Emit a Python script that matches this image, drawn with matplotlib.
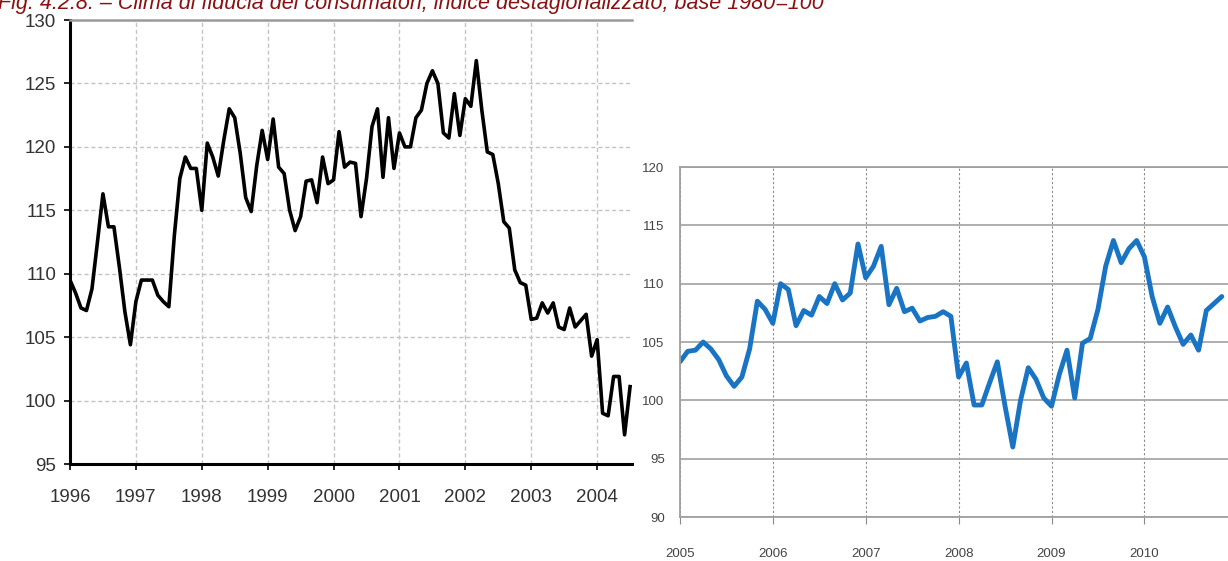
"""
plot.py - consumer confidence index, two panels side by side
Left: 1996-2004 (black), right: 2005-2010 (blue), monthly values.
"""

import numpy as np
import matplotlib
matplotlib.use("Agg")
import matplotlib.pyplot as plt

# ---------------------------------------------------------------------------
# Data (monthly)
# ---------------------------------------------------------------------------

TITLE = ("Fig. 4.2.8. \u2013 Clima di fiducia dei consumatori, "
         "indice destagionalizzato, base 1980=100")

# left panel: month 0 = Jan 1996
old_start = 1996
old_values = [
    109.5, 108.5, 107.3, 107.1, 108.8, 112.5, 116.3, 113.7, 113.7, 110.5,
    107.0, 104.4, 107.8, 109.5, 109.5, 109.5, 108.3, 107.8, 107.4, 113.0,
    117.5, 119.2, 118.3, 118.3, 115.0, 120.3, 119.2, 117.7, 120.5, 123.0,
    122.3, 119.5, 116.0, 114.9, 118.5, 121.3, 119.0, 122.2, 118.4, 117.9,
    115.0, 113.4, 114.5, 117.3, 117.4, 115.6, 119.2, 117.1, 117.4, 121.2,
    118.4, 118.8, 118.7, 114.5, 117.5, 121.6, 123.0, 117.6, 122.3, 118.3,
    121.1, 120.0, 120.0, 122.3, 122.9, 125.0, 126.0, 125.0, 121.1, 120.7,
    124.2, 120.9, 123.8, 123.2, 126.8, 122.9, 119.6, 119.4, 117.1, 114.1,
    113.6, 110.3, 109.3, 109.1, 106.4, 106.5, 107.7, 106.9, 107.7, 105.8,
    105.6, 107.3, 105.8, 106.3, 106.8, 103.5, 104.8, 99.0, 98.8, 101.9,
    101.9, 97.3, 101.1,
]
old_years = [1996, 1997, 1998, 1999, 2000, 2001, 2002, 2003, 2004]
old_yticks = [95, 100, 105, 110, 115, 120, 125, 130]

# right panel: month 0 = Jan 2005
new_start = 2005
new_values = [
    103.3, 104.2, 104.3, 105.0, 104.4, 103.5, 102.1, 101.2, 102.0, 104.4,
    108.5, 107.8, 106.6, 110.0, 109.5, 106.4, 107.7, 107.3, 108.9, 108.3,
    110.0, 108.6, 109.2, 113.4, 110.5, 111.5, 113.2, 108.2, 109.6, 107.6,
    107.9, 106.8, 107.1, 107.2, 107.6, 107.2, 102.0, 103.2, 99.6, 99.6,
    101.5, 103.3, 99.5, 96.0, 100.0, 102.8, 101.8, 100.2, 99.5, 102.2,
    104.3, 100.2, 104.9, 105.3, 107.8, 111.5, 113.7, 111.8, 113.0, 113.7,
    112.3, 108.9, 106.6, 108.0, 106.3, 104.8, 105.6, 104.3, 107.7, 108.3,
    108.9,
]
new_years = [2005, 2006, 2007, 2008, 2009, 2010]
new_yticks = [90, 95, 100, 105, 110, 115, 120]


def month_axis(start, n):
    return start + np.arange(n) / 12.0


# ---------------------------------------------------------------------------
# Panels
# ---------------------------------------------------------------------------

def draw_old(fig):
    ax = fig.add_axes([0.0570, 0.1729, 0.4577, 0.7914])
    x = month_axis(old_start, len(old_values))
    ax.plot(x, old_values, color="black", lw=2.6, solid_joinstyle="round")

    ax.set_xlim(1996, 2004.53)
    ax.set_ylim(95, 130)
    ax.set_xticks(old_years)
    ax.set_yticks(old_yticks)
    ax.grid(True, color="#c4c4c4", ls=(0, (3, 2)), lw=1.0)
    ax.set_axisbelow(True)

    for side in ("left", "bottom"):
        ax.spines[side].set_color("black")
        ax.spines[side].set_linewidth(2.2)
    ax.spines["top"].set_color("#9a9a9a")
    ax.spines["top"].set_linewidth(1.8)
    ax.spines["right"].set_visible(False)

    ax.tick_params(axis="y", length=4, width=1.2, pad=6, colors="black",
                   labelcolor="#333333", labelsize=13.5)
    ax.tick_params(axis="x", length=4, width=1.2, pad=14, colors="black",
                   labelcolor="#333333", labelsize=13.5)
    for lab in ax.get_xticklabels() + ax.get_yticklabels():
        lab.set_family(["Liberation Sans", "DejaVu Sans"])
    return ax


def draw_new(fig):
    ax = fig.add_axes([0.5537, 0.0784, 0.4463, 0.6239])
    x = month_axis(new_start, len(new_values))
    ax.plot(x, new_values, color="#1a74c4", lw=3.5,
            solid_joinstyle="round", solid_capstyle="round")

    ax.set_xlim(2005, 2010.9)
    ax.set_ylim(90, 120)
    ax.set_xticks(new_years)
    ax.set_yticks(new_yticks)
    ax.yaxis.grid(True, color="#a8a8a8", ls="-", lw=1.3)
    ax.xaxis.grid(True, color="#8a8a8a", ls=(0, (2, 2)), lw=0.8)
    ax.set_axisbelow(True)

    for side in ("left", "bottom", "top"):
        ax.spines[side].set_color("#a0a0a0")
        ax.spines[side].set_linewidth(1.3)
    ax.spines["right"].set_visible(False)

    ax.tick_params(axis="y", length=0, pad=11, labelcolor="#444444",
                   labelsize=9.5)
    ax.tick_params(axis="x", length=5, width=0.8, color="#8a8a8a", pad=17,
                   labelcolor="#444444", labelsize=9.5)
    for lab in ax.get_xticklabels() + ax.get_yticklabels():
        lab.set_family(["Liberation Sans Narrow", "Liberation Sans",
                        "DejaVu Sans"])
    return ax


def main():
    fig = plt.figure(figsize=(12.28, 5.61), dpi=100)
    draw_old(fig)
    draw_new(fig)
    # title sits partly above the top edge, as in the scanned source
    fig.text(-0.002, 1 - 9 / 561, TITLE, color="#8b1010", style="italic",
             fontsize=15.5, family=["Liberation Sans", "DejaVu Sans"],
             va="baseline", ha="left")
    fig.savefig("out.png", dpi=100)


if __name__ == "__main__":
    main()
